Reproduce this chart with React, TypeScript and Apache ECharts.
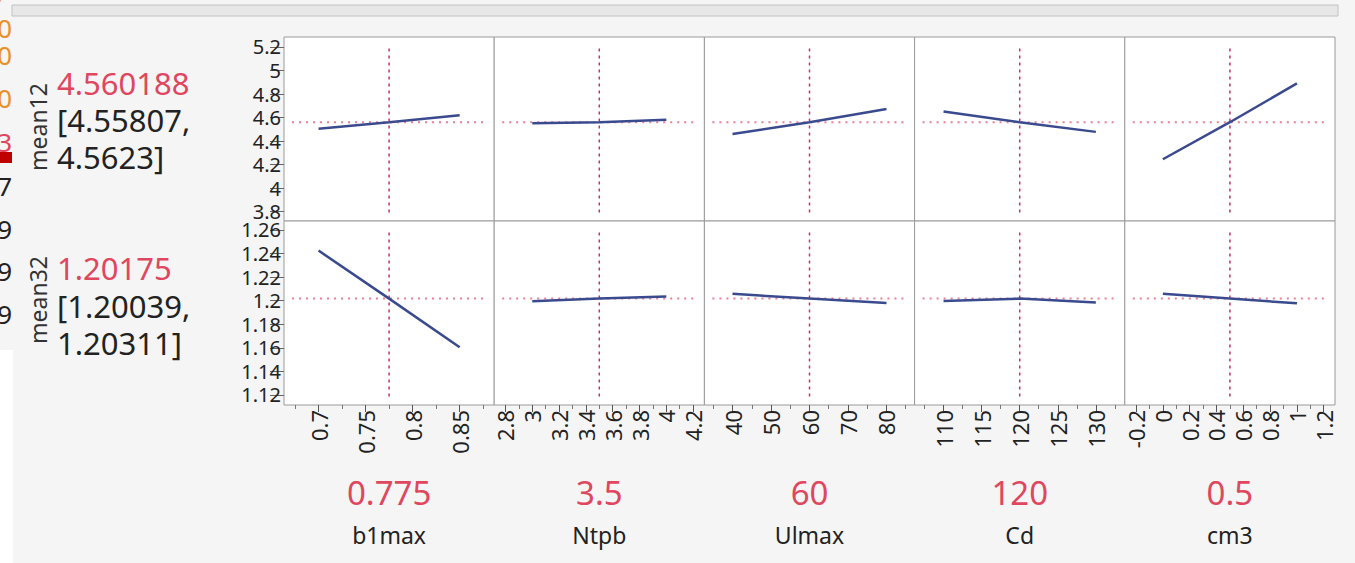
import React, { useEffect, useRef } from "react";
import * as echarts from "echarts";

// ---------- data ----------
const responses = ["mean12", "mean32"];
const predicted = [4.560188, 1.20175];
const ciLow = [4.55807, 1.20039];
const ciHigh = [4.5623, 1.20311];

const factors = ["b1max", "Ntpb", "Ulmax", "Cd", "cm3"];
const factorCurrent = [0.775, 3.5, 60, 120, 0.5];
const factorMin = [0.6633, 2.716, 32.7, 106.2, -0.284];
const factorMax = [0.8867, 4.284, 87.3, 133.8, 1.284];

const xMajorTicks = [
  [0.7, 0.75, 0.8, 0.85],
  [2.8, 3, 3.2, 3.4, 3.6, 3.8, 4, 4.2],
  [40, 50, 60, 70, 80],
  [110, 115, 120, 125, 130],
  [-0.2, 0, 0.2, 0.4, 0.6, 0.8, 1, 1.2],
];
const xMinorTicks = [
  [0.675, 0.725, 0.775, 0.825, 0.875],
  [2.9, 3.1, 3.3, 3.5, 3.7, 3.9, 4.1],
  [35, 45, 55, 65, 75, 85],
  [107.5, 112.5, 117.5, 122.5, 127.5, 132.5],
  [-0.1, 0.1, 0.3, 0.5, 0.7, 0.9, 1.1],
];

const yMin = [3.72, 1.1115];
const yMax = [5.285, 1.2676];
const yTicks = [
  [3.8, 4, 4.2, 4.4, 4.6, 4.8, 5, 5.2],
  [1.12, 1.14, 1.16, 1.18, 1.2, 1.22, 1.24, 1.26],
];

// profile traces: x points per factor, y values per response
const profileX = [
  [0.7, 0.775, 0.85],
  [3, 3.5, 4],
  [40, 60, 80],
  [110, 120, 130],
  [0, 0.5, 1],
];
const mean12Profile = [
  [4.505, 4.560188, 4.62],
  [4.552, 4.560188, 4.582],
  [4.46, 4.560188, 4.672],
  [4.652, 4.560188, 4.478],
  [4.245, 4.560188, 4.89],
];
const mean32Profile = [
  [1.2425, 1.20175, 1.1605],
  [1.1995, 1.20175, 1.2035],
  [1.2058, 1.20175, 1.198],
  [1.1998, 1.20175, 1.1985],
  [1.2058, 1.20175, 1.1978],
];
const profiles = [mean12Profile, mean32Profile];

const edgeDigits = ["0", "0", "0", "3", "7", "9", "9", "9"];
const edgeColors = ["#e8902e", "#e8902e", "#e8902e", "#e0465e", "#222", "#222", "#222", "#222"];

// ---------- layout ----------
const W = 1355;
const H = 563;
const GL = 284;
const GR = 1335;
const rowTops = [37, 221];
const rowH = 184;
const colW = (GR - GL) / 5;
const FONT = "'Noto Sans', 'Open Sans', sans-serif";
const RED = "#e0465e";

export default function App() {
  const ref = useRef<HTMLDivElement>(null);

  useEffect(() => {
    if (!ref.current) return;
    const chart = echarts.init(ref.current, undefined, { renderer: "svg" });

    const grids: any[] = [];
    const xAxes: any[] = [];
    const yAxes: any[] = [];
    const series: any[] = [];

    for (let r = 0; r < 2; r++) {
      for (let c = 0; c < 5; c++) {
        const gi = r * 5 + c;
        grids.push({
          left: GL + c * colW,
          top: rowTops[r],
          width: colW,
          height: rowH,
          show: true,
          backgroundColor: "#ffffff",
          borderColor: "#9a9a9a",
          borderWidth: 1,
        });
        const bottomRow = r === 1;
        xAxes.push({
          type: "value",
          gridIndex: gi,
          min: factorMin[c],
          max: factorMax[c],
          position: "bottom",
          axisLine: { show: false },
          splitLine: { show: false },
          axisTick: {
            show: bottomRow,
            length: 7,
            customValues: xMajorTicks[c],
            lineStyle: { color: "#555", width: 1 },
          },
          axisLabel: {
            show: bottomRow,
            rotate: 90,
            margin: 5,
            fontSize: 22,
            fontFamily: FONT,
            color: "#222",
            customValues: xMajorTicks[c],
            formatter: (v: number) => String(v),
          },
        });
        yAxes.push({
          type: "value",
          gridIndex: gi,
          min: yMin[r],
          max: yMax[r],
          show: c === 0,
          axisLine: { show: false },
          splitLine: { show: false },
          axisTick: {
            show: true,
            length: 14,
            customValues: yTicks[r],
            lineStyle: { color: "#666", width: 1 },
          },
          axisLabel: {
            show: true,
            margin: 3,
            fontSize: 20,
            lineHeight: 20,
            fontFamily: FONT,
            color: "#222",
            customValues: yTicks[r],
            formatter: (v: number) => String(v),
          },
        });

        const xr = factorMax[c] - factorMin[c];
        const yr = yMax[r] - yMin[r];
        const dx = (xr * 8) / colW;
        const dy = (yr * 8.5) / rowH;
        // horizontal crosshair
        series.push({
          type: "line",
          xAxisIndex: gi,
          yAxisIndex: gi,
          symbol: "none",
          silent: true,
          z: 1,
          lineStyle: { color: "#ec7f95", width: 2, type: [2, 5] },
          data: [
            [factorMin[c] + dx, predicted[r]],
            [factorMax[c] - dx, predicted[r]],
          ],
        });
        // vertical crosshair
        series.push({
          type: "line",
          xAxisIndex: gi,
          yAxisIndex: gi,
          symbol: "none",
          silent: true,
          z: 1,
          lineStyle: { color: "#c8305a", width: 1.5, type: [3, 4] },
          data: [
            [factorCurrent[c], yMin[r] + dy],
            [factorCurrent[c], yMax[r] - dy],
          ],
        });
        // profile trace
        series.push({
          type: "line",
          xAxisIndex: gi,
          yAxisIndex: gi,
          symbol: "none",
          silent: true,
          z: 3,
          lineStyle: { color: "#3a4a8e", width: 2.5 },
          data: profileX[c].map((x, i) => [x, profiles[r][c][i]]),
        });
      }
    }
    // minor ticks on bottom row
    for (let c = 0; c < 5; c++) {
      const gi = 5 + c;
      xAxes.push({
        type: "value",
        gridIndex: gi,
        min: factorMin[c],
        max: factorMax[c],
        position: "bottom",
        axisLine: { show: false },
        splitLine: { show: false },
        axisLabel: { show: false },
        axisTick: {
          show: true,
          length: 4,
          customValues: xMinorTicks[c],
          lineStyle: { color: "#777", width: 1 },
        },
      });
    }

    const graphics: any[] = [];
    // left white corner
    graphics.push({
      type: "rect",
      shape: { x: 0, y: 350, width: 13, height: H - 350 },
      style: { fill: "#ffffff" },
      silent: true,
    });
    // scrollbar
    graphics.push({
      type: "rect",
      shape: { x: 12, y: 5, width: 1326, height: 11 },
      style: { fill: "#e7e7e7", stroke: "#c2c2c2", lineWidth: 1 },
      silent: true,
    });
    // clipped left-edge digits
    graphics.push({
      type: "text",
      x: 16,
      y: -6,
      style: {
        text: "0000*",
        fontSize: 24,
        lineHeight: 20,
        fontFamily: FONT,
        fill: "#e8902e",
        align: "right",
        verticalAlign: "middle",
      },
      silent: true,
    });
    const edgeY = [28, 55, 98, 142, 186, 229, 271, 314];
    edgeDigits.forEach((d, i) => {
      graphics.push({
        type: "text",
        x: 12,
        y: edgeY[i],
        style: {
          text: d,
          fontSize: 26,
          lineHeight: 24,
          fontFamily: FONT,
          fill: edgeColors[i],
          align: "right",
          verticalAlign: "middle",
        },
        silent: true,
      });
    });
    graphics.push({
      type: "rect",
      shape: { x: 0, y: 152, width: 12, height: 11 },
      style: { fill: "#c00000" },
      silent: true,
    });

    // response labels & values
    const respCenters = [127, 300];
    const valueY = [
      [83, 120, 157],
      [268, 306, 343],
    ];
    for (let r = 0; r < 2; r++) {
      graphics.push({
        type: "text",
        x: 38,
        y: respCenters[r],
        rotation: Math.PI / 2,
        style: {
          text: responses[r],
          fontSize: 23,
          fontFamily: FONT,
          fill: "#333",
          align: "center",
          verticalAlign: "middle",
        },
        silent: true,
      });
      const lines = [String(predicted[r]), `[${ciLow[r]},`, `${ciHigh[r]}]`];
      lines.forEach((t, i) => {
        graphics.push({
          type: "text",
          x: 57,
          y: valueY[r][i],
          style: {
            text: t,
            fontSize: 31,
            fontFamily: FONT,
            fill: i === 0 ? RED : "#222",
            align: "left",
            verticalAlign: "middle",
          },
          silent: true,
        });
      });
    }

    // factor values & names
    for (let c = 0; c < 5; c++) {
      const cx = GL + c * colW + colW / 2;
      graphics.push({
        type: "text",
        x: cx,
        y: 492,
        style: {
          text: String(factorCurrent[c]),
          fontSize: 33,
          fontFamily: FONT,
          fill: RED,
          align: "center",
          verticalAlign: "middle",
        },
        silent: true,
      });
      graphics.push({
        type: "text",
        x: cx,
        y: 535,
        style: {
          text: factors[c],
          fontSize: 23,
          fontFamily: FONT,
          fill: "#222",
          align: "center",
          verticalAlign: "middle",
        },
        silent: true,
      });
    }

    chart.setOption({
      animation: false,
      backgroundColor: "#f5f5f5",
      grid: grids,
      xAxis: xAxes,
      yAxis: yAxes,
      series,
      graphic: { elements: graphics },
    });

    return () => chart.dispose();
  }, []);

  return (
    <div
      ref={ref}
      style={{ position: "fixed", left: 0, top: 0, width: W, height: H }}
    />
  );
}
